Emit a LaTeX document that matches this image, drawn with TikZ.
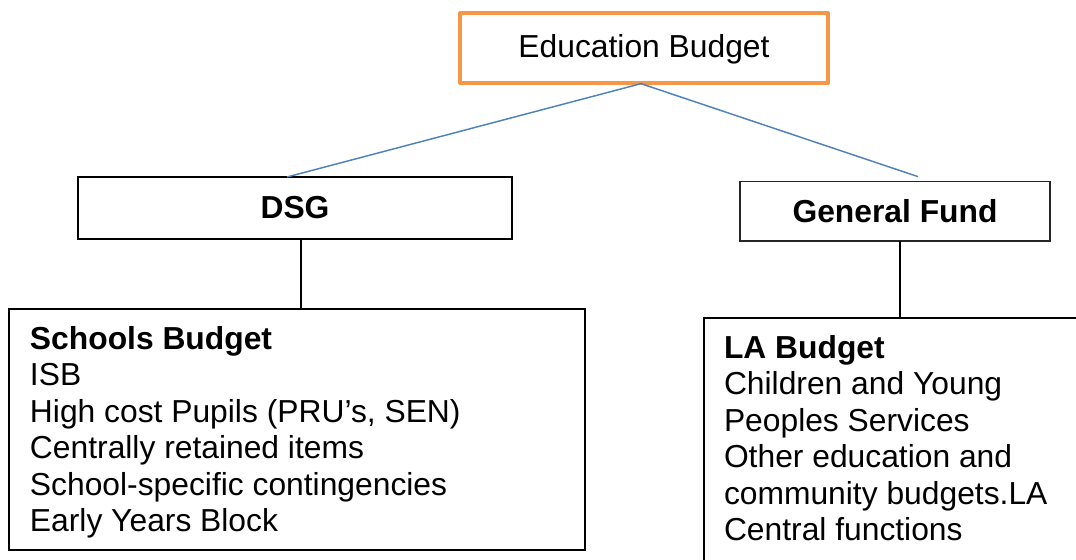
\documentclass[tikz,border=0pt]{standalone}
\usepackage{fontspec}
\setmainfont{Liberation Sans}
\definecolor{accentorange}{HTML}{F79646}
\definecolor{linkblue}{HTML}{4F81BD}
\definecolor{framegray}{HTML}{262626}
\begin{document}
\begin{tikzpicture}[x=0.75pt,y=-0.75pt,
  every node/.style={inner sep=0pt, outer sep=0pt},
  bigtext/.style={font=\fontsize{23.85pt}{27.4pt}\selectfont},
  topbox/.style={draw=accentorange, line width=3pt, line join=round, rectangle, bigtext, text height=17pt, text depth=2pt},
  fundbox/.style={draw=black, line width=1.5pt, rectangle, bigtext, font=\fontsize{23.85pt}{27.4pt}\selectfont\bfseries},
  thinbox/.style={draw=framegray, line width=0.9pt, rectangle, font=\fontsize{23.85pt}{27.4pt}\selectfont\bfseries},
  listbox/.style={draw=black, line width=1.5pt, rectangle},
  listtext/.style={bigtext, align=left, anchor=north west},
  link/.style={draw=linkblue, line width=1.1pt},
  stem/.style={draw=black, line width=1.5pt}]
\useasboundingbox (0,0) rectangle (1076,560);
\clip (0,0) rectangle (1076,560);

% top level
\node[topbox, minimum width=276pt, minimum height=52.5pt] (top) at (644,48) {Education Budget};

% funding streams
\node[fundbox, minimum width=325.5pt, minimum height=46.5pt] (dsg) at (295,208) {DSG};
\node[thinbox, minimum width=232.5pt, minimum height=44.5pt] (gf) at (895,211.3) {General Fund};

% budget detail boxes
\node[listbox, minimum width=432pt, minimum height=180.75pt] (sb) at (297,429.5) {};
\node[listbox, minimum width=297pt, minimum height=196.5pt] (la) at (902,449) {};

\node[listtext] (sbtext) at (30,326) {\textbf{Schools Budget}\\ISB\\High cost Pupils (PRU’s, SEN)\\Centrally retained items\\School-specific contingencies\\Early Years Block};
\node[listtext] (latext) at (724,335) {\textbf{LA Budget}\\Children and Young\\Peoples Services\\Other education and\\community budgets.LA\\Central functions};

% connectors
\coordinate (apex) at ([xshift=-2.25pt,yshift=-0.5pt]top.south);
\coordinate (dsgend) at ([xshift=-6pt]dsg.north);
\coordinate (gfend) at ([xshift=17.25pt,yshift=3.75pt]gf.north);
\draw[link] (apex) -- (dsgend);
\draw[link] (apex) -- (gfend);

\coordinate (dsgfoot) at ([xshift=4.5pt]dsg.south);
\coordinate (gffoot) at ([xshift=3.75pt]gf.south);
\draw[stem] (dsgfoot) -- (dsgfoot |- sb.north);
\draw[stem] (gffoot) -- (gffoot |- la.north);
\end{tikzpicture}
\end{document}
